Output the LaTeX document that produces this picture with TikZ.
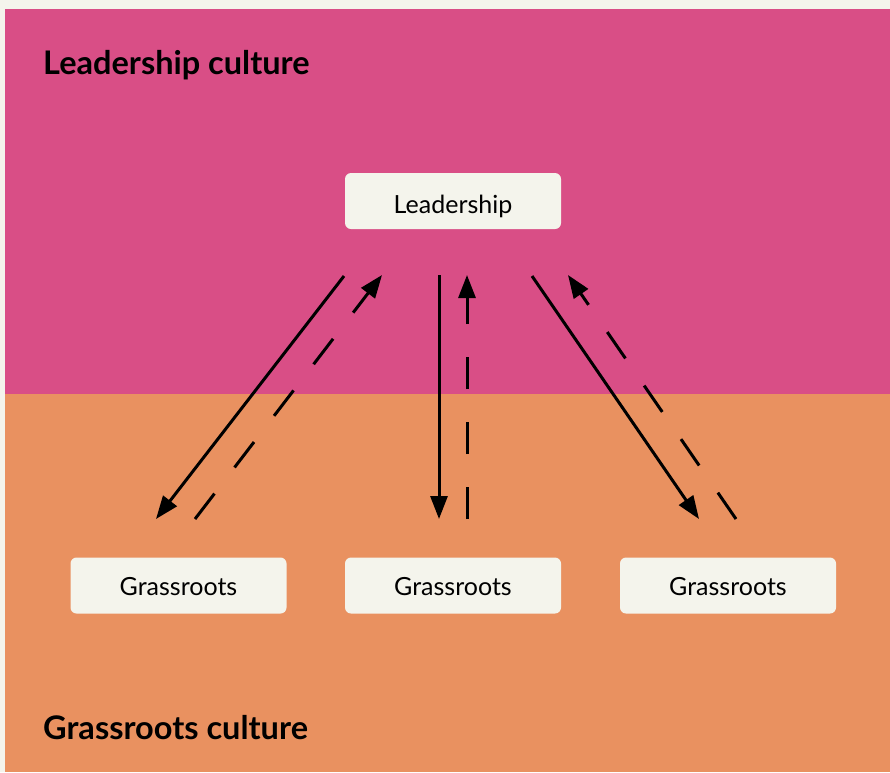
\documentclass[tikz,border=0pt]{standalone}
\usepackage{fontspec}
\setmainfont{Lato}
\usetikzlibrary{arrows.meta}
\definecolor{cream}{RGB}{244,244,236}
\definecolor{pinkbg}{RGB}{217,78,134}
\definecolor{orangebg}{RGB}{233,145,96}
\begin{document}
\begin{tikzpicture}[x=1pt,y=-1pt,
  box/.style={fill=cream,rounded corners=6pt,minimum width=216pt,minimum height=56pt,inner sep=0pt,font=\fontsize{25}{28}\selectfont,text=black,text depth=0pt},
  heading/.style={anchor=base west,inner sep=0pt,font=\fontsize{32.5}{36}\selectfont\bfseries,text=black},
  flow/.style={line width=3pt,-{Triangle[length=23pt,width=17pt]}},
  flowback/.style={flow,dash pattern=on 32pt off 33pt}]
\useasboundingbox (0,0) rectangle (890,772);
\fill[cream] (0,0) rectangle (890,772);
\fill[pinkbg] (5,9) rectangle (890,394);
\fill[orangebg] (5,394) rectangle (890,772);
\node[heading] (lc) at (43,74) {Leadership culture};
\node[heading] (gc) at (43,739) {Grassroots culture};
\node[box,text height=24pt] (lead) at (453,201) {Leadership};
\node[box,text height=19pt] (g1) at (178.5,585.5) {Grassroots};
\node[box,text height=19pt] (g2) at (453,585.5) {Grassroots};
\node[box,text height=19pt] (g3) at (728,585.5) {Grassroots};
\coordinate (a1s) at (344,276); \coordinate (a1e) at (156,519);
\coordinate (b1s) at (195,519); \coordinate (b1e) at (382,275);
\coordinate (a2s) at (439,275); \coordinate (a2e) at (439,519);
\coordinate (b2s) at (467,519); \coordinate (b2e) at (467,275);
\coordinate (a3s) at (532,276); \coordinate (a3e) at (699,519);
\coordinate (b3s) at (736,519); \coordinate (b3e) at (568,275);
\draw[flow] (a1s) -- (a1e);
\draw[flowback] (b1s) -- (b1e);
\draw[flow] (a2s) -- (a2e);
\draw[flowback] (b2s) -- (b2e);
\draw[flow] (a3s) -- (a3e);
\draw[flowback] (b3s) -- (b3e);
\end{tikzpicture}
\end{document}
